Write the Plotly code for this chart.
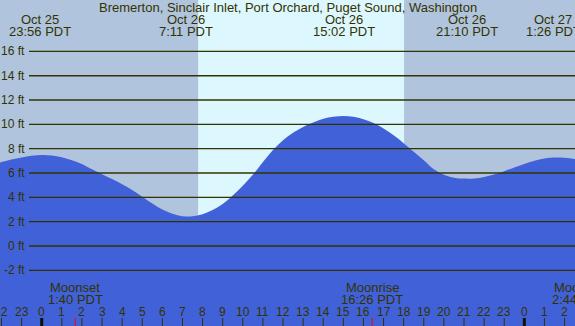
import plotly.graph_objects as go

# ---------------- data ----------------
# hours relative to midnight starting Oct 26 (PDT)
tide_hours = [-2.5, -2.0, -1.5, -1.0, -0.5, 0.0, 0.5, 1.0, 1.5, 2.0, 2.5, 3.0,
              3.5, 4.0, 4.5, 5.0, 5.5, 6.0, 6.5, 7.0, 7.5, 8.0, 8.5, 9.0, 9.5,
              10.0, 10.5, 11.0, 11.5, 12.0, 12.5, 13.0, 13.5, 14.0, 14.5, 15.0,
              15.5, 16.0, 16.5, 17.0, 17.5, 18.0, 18.5, 19.0, 19.5, 20.0, 20.5,
              21.0, 21.5, 22.0, 22.5, 23.0, 23.5, 24.0, 24.5, 25.0, 25.5, 26.0,
              26.5, 27.0]
tide_ft = [6.7, 6.9, 7.1, 7.28, 7.42, 7.48, 7.44, 7.3, 7.05, 6.75, 6.3, 5.9,
           5.5, 5.08, 4.6, 4.05, 3.5, 3.0, 2.65, 2.45, 2.44, 2.6, 2.95, 3.45, 4.15,
           4.95, 5.85, 6.9, 7.9, 8.7, 9.3, 9.78, 10.15, 10.45, 10.62, 10.68,
           10.62, 10.42, 10.1, 9.65, 9.1, 8.45, 7.75, 7.05, 6.3, 5.85, 5.62,
           5.54, 5.55, 5.68, 5.88, 6.15, 6.45, 6.75, 7.0, 7.2, 7.28, 7.25,
           7.15, 7.0]

extreme_hours = [-0.067, 7.183, 15.033, 21.167, 25.433]
extreme_dates = ["Oct 25", "Oct 26", "Oct 26", "Oct 26", "Oct 27"]
extreme_times = ["23:56 PDT", "7:11 PDT", "15:02 PDT", "21:10 PDT", "1:26 PDT"]

sunrise_hour = 7.78
sunset_hour = 18.02

moon_events = ["Moonset", "Moonrise", "Moonset"]
moon_hours = [1.667, 16.433, 26.733]
moon_times = ["1:40 PDT", "16:26 PDT", "2:44 PDT"]

hour_ticks = list(range(-2, 27))
hour_labels = ["22", "23", "0", "1", "2", "3", "4", "5", "6", "7", "8", "9",
               "10", "11", "12", "13", "14", "15", "16", "17", "18", "19",
               "20", "21", "22", "23", "0", "1", "2"]
midnight_hours = [0, 24]

ft_levels = [-2, 0, 2, 4, 6, 8, 10, 12, 14, 16]
ft_labels = ["-2 ft", "0 ft", "2 ft", "4 ft", "6 ft", "8 ft", "10 ft",
             "12 ft", "14 ft", "16 ft"]

title = "Bremerton, Sinclair Inlet, Port Orchard, Puget Sound, Washington"

# ---------------- style ----------------
W, H = 575, 326
X_RANGE = [-2.074, 26.52]
Y_RANGE = [-6.575, 20.22]
NIGHT = "#B0C4DE"
DAY = "#DDF7FF"
WATER = "#4161D8"
INK = "#333300"
FONT = "Liberation Sans, Arial, sans-serif"


def py(px):
    return 1 - px / H


def hx(h):
    # hour -> paper fraction (paper refs are not hidden when outside the range)
    return (h - X_RANGE[0]) / (X_RANGE[1] - X_RANGE[0])


fig = go.Figure()
fig.add_trace(go.Scatter(x=tide_hours, y=[Y_RANGE[0] - 1] * len(tide_hours),
                         mode="lines", line=dict(width=0, color=WATER),
                         hoverinfo="skip", showlegend=False))
fig.add_trace(go.Scatter(x=tide_hours, y=tide_ft, mode="lines",
                         line=dict(width=0, color=WATER, shape="spline", smoothing=1.0),
                         fill="tonexty", fillcolor=WATER, showlegend=False))

shapes = []
annotations = []

# daylight band
shapes.append(dict(type="rect", xref="x", yref="paper", x0=sunrise_hour, x1=sunset_hour,
                   y0=0, y1=1, fillcolor=DAY, line=dict(width=0), layer="below"))

# horizontal level lines and labels
for lvl, lab in zip(ft_levels, ft_labels):
    shapes.append(dict(type="line", xref="paper", yref="y", x0=29 / W, x1=1,
                       y0=lvl, y1=lvl, line=dict(color=INK, width=1.4), layer="above"))
    annotations.append(dict(xref="paper", yref="y", x=27 / W, y=lvl, text=lab,
                            showarrow=False, xanchor="right", yanchor="middle",
                            font=dict(size=12, color=INK, family=FONT)))

# hour ticks and labels
for h, lab in zip(hour_ticks, hour_labels):
    if h in midnight_hours:
        shapes.append(dict(type="line", xref="x", yref="paper", x0=h, x1=h,
                           y0=0, y1=8 / H, line=dict(color="#111100", width=3)))
    else:
        shapes.append(dict(type="line", xref="x", yref="paper", x0=h, x1=h,
                           y0=0, y1=8 / H, line=dict(color=INK, width=1)))
    annotations.append(dict(xref="paper", yref="paper", x=hx(h), y=py(312), text=lab,
                            showarrow=False, xanchor="center", yanchor="middle",
                            font=dict(size=12, color=INK, family=FONT)))

# moon events
for ev, h, t in zip(moon_events, moon_hours, moon_times):
    shapes.append(dict(type="line", xref="x", yref="paper", x0=h, x1=h,
                       y0=0, y1=8 / H, line=dict(color="red", width=1)))
    annotations.append(dict(xref="paper", yref="paper", x=hx(h), y=py(287.5), text=ev,
                            showarrow=False, xanchor="center", yanchor="middle",
                            font=dict(size=13, color=INK, family=FONT)))
    annotations.append(dict(xref="paper", yref="paper", x=hx(h), y=py(299.5), text=t,
                            showarrow=False, xanchor="center", yanchor="middle",
                            font=dict(size=13, color=INK, family=FONT)))

# tide extremes at top
for h, d, t in zip(extreme_hours, extreme_dates, extreme_times):
    annotations.append(dict(xref="paper", yref="paper", x=hx(h), y=py(19.5), text=d,
                            showarrow=False, xanchor="center", yanchor="middle",
                            font=dict(size=13, color=INK, family=FONT)))
    annotations.append(dict(xref="paper", yref="paper", x=hx(h), y=py(31.5), text=t,
                            showarrow=False, xanchor="center", yanchor="middle",
                            font=dict(size=13, color=INK, family=FONT)))

annotations.append(dict(xref="paper", yref="paper", x=287.5 / W, y=py(7.5), text=title,
                        showarrow=False, xanchor="center", yanchor="middle",
                        font=dict(size=13, color=INK, family=FONT)))

fig.update_layout(
    width=W, height=H,
    margin=dict(l=0, r=0, t=0, b=0),
    paper_bgcolor=NIGHT, plot_bgcolor=NIGHT,
    xaxis=dict(range=X_RANGE, visible=False, fixedrange=True),
    yaxis=dict(range=Y_RANGE, visible=False, fixedrange=True),
    shapes=shapes, annotations=annotations,
    showlegend=False,
)

fig.write_html("out.html", config={"displayModeBar": False},
               post_script="document.body.style.margin='0';document.body.style.overflow='hidden';")
